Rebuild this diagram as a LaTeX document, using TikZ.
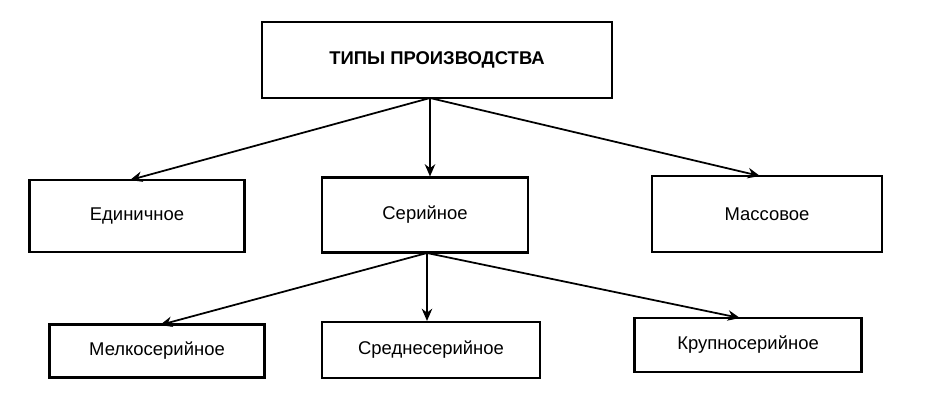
\documentclass[tikz,border=0pt]{standalone}
\usepackage{fontspec}
\setmainfont{Liberation Sans}
\usetikzlibrary{positioning, arrows.meta}
\begin{document}
\begin{tikzpicture}[x=0.02cm, y=-0.02cm, every node/.style={font=\fontsize{10.5}{12}\selectfont}]
            % styles
            \tikzstyle{cell} = [rectangle, draw=black, line width=1.2pt, text centered, inner sep=0pt]
            \tikzstyle{arrow} = [line width=1pt, -{Stealth[length=7pt, width=6pt]}, draw=black]
            \useasboundingbox (0,0) rectangle (929,400);

            % top
            \node (types) [cell, minimum width=7cm, minimum height=1.52cm, font=\fontsize{10.5}{12}\selectfont\bfseries] at (437,60) {ТИПЫ ПРОИЗВОДСТВА};
            \node (single) [cell, minimum width=4.3cm, minimum height=1.44cm] at (137,216) {Единичное};
            \node (serial) [cell, minimum width=4.12cm, minimum height=1.5cm] at (425,215) {Серийное};
            \node (mass) [cell, minimum width=4.6cm, minimum height=1.52cm] at (767,214) {Массовое};

            % bottom
            \node (small) [cell, minimum width=4.3cm, minimum height=1.06cm] at (157,351) {Мелкосерийное};
            \node (medium) [cell, minimum width=4.36cm, minimum height=1.12cm] at (431,350) {Среднесерийное};
            \node (large) [cell, minimum width=4.54cm, minimum height=1.08cm] at (748,345) {Крупносерийное};

            % flow
            \coordinate (topfan) at (430,98);
            \coordinate (midfan) at (427,253);
            \draw [arrow] (topfan) -- (130,180);
            \draw [arrow] (topfan) -- (topfan |- serial.north);
            \draw [arrow] (topfan) -- (760,176);
            \draw [arrow] (midfan) -- (160,325);
            \draw [arrow] (midfan) -- (midfan |- medium.north);
            \draw [arrow] (midfan) -- (740,318);
        \end{tikzpicture}
\end{document}
